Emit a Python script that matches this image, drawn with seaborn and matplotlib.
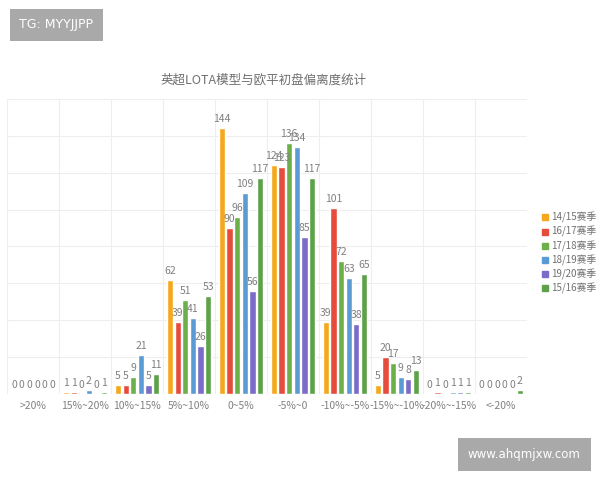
import pandas as pd
import numpy as np
import matplotlib
matplotlib.use("Agg")
import matplotlib.pyplot as plt
from matplotlib.lines import Line2D
import seaborn as sns

# data
categories = [">20%", "15%~20%", "10%~15%", "5%~10%", "0~5%",
              "-5%~0", "-10%~-5%", "-15%~-10%", "-20%~-15%", "<-20%"]
seasons = ["14/15赛季", "16/17赛季", "17/18赛季", "18/19赛季", "19/20赛季", "15/16赛季"]
s1415 = [0, 1, 5, 62, 144, 124, 39, 5, 0, 0]
s1617 = [0, 1, 5, 39, 90, 123, 101, 20, 1, 0]
s1718 = [0, 0, 9, 51, 96, 136, 72, 17, 0, 0]
s1819 = [0, 2, 21, 41, 109, 134, 63, 9, 1, 0]
s1920 = [0, 0, 5, 26, 56, 85, 38, 8, 1, 0]
s1516 = [0, 1, 11, 53, 117, 117, 65, 13, 1, 2]
colors = ["#F5A81C", "#E64B3B", "#6CB04A", "#5B9BD5", "#7B6CC8", "#5DA248"]

series = [s1415, s1617, s1718, s1819, s1920, s1516]
rows = []
for name, vals in zip(seasons, series):
    for c, v in zip(categories, vals):
        rows.append({"cat": c, "season": name, "count": v})
df = pd.DataFrame(rows)

sns.set_style("white")
plt.rcParams['font.family'] = ['Noto Sans CJK SC', 'DejaVu Sans']

fig = plt.figure(figsize=(6, 4.8), dpi=100)
ax = fig.add_axes([0.012, 0.179, 0.866, 0.615])

sns.barplot(data=df, x="cat", y="count", hue="season", order=categories,
            hue_order=seasons, palette=colors, width=0.88, gap=0.18,
            saturation=1, legend=False, ax=ax)

for cont in ax.containers:
    ax.bar_label(cont, padding=3, fontsize=7.5, color="#808080")

ax.set_xlim(-0.5, 9.5)
ax.set_ylim(0, 160)
ax.set_yticks(np.arange(0, 161, 20))
ax.set_yticklabels([])
ax.set_xticks(range(len(categories)))
ax.set_xticklabels(categories, fontsize=7.5, color="#808080")
ax.set_xticks(np.arange(-0.5, 10, 1), minor=True)
ax.tick_params(axis="both", length=0, which="both")
ax.tick_params(axis="x", pad=5)
ax.grid(True, axis="y", color="#eeeeee", lw=0.8)
ax.grid(True, axis="x", which="minor", color="#eeeeee", lw=0.8)
ax.set_axisbelow(True)
ax.set_xlabel("")
ax.set_ylabel("")
for s in ax.spines.values():
    s.set_visible(False)

fig.text(0.44, 0.834, "英超LOTA模型与欧平初盘偏离度统计", ha="center", va="center",
         fontsize=9, color="#707070")

handles = [Line2D([0], [0], marker="s", linestyle="", markersize=5,
                  markerfacecolor=c, markeredgecolor=c) for c in colors]
fig.legend(handles, seasons, loc="upper left", bbox_to_anchor=(0.895, 0.568),
           frameon=False, fontsize=7, labelcolor="#707070", handlelength=0.6,
           handletextpad=0.3, labelspacing=0.32, borderpad=0)

fig.text(0.032, 0.948, "TG: MYYJJPP", ha="left", va="center", fontsize=9,
         color="white", family=["DejaVu Sans"],
         bbox=dict(boxstyle="square,pad=0.75", fc="#a9a9a9", ec="none"))
fig.text(0.874, 0.053, "www.ahqmjxw.com", ha="center", va="center", fontsize=8.5,
         color="white", family=["DejaVu Sans"],
         bbox=dict(boxstyle="square,pad=0.85", fc="#a9a9a9", ec="none"))

fig.savefig("out.png", dpi=100, facecolor="white")
